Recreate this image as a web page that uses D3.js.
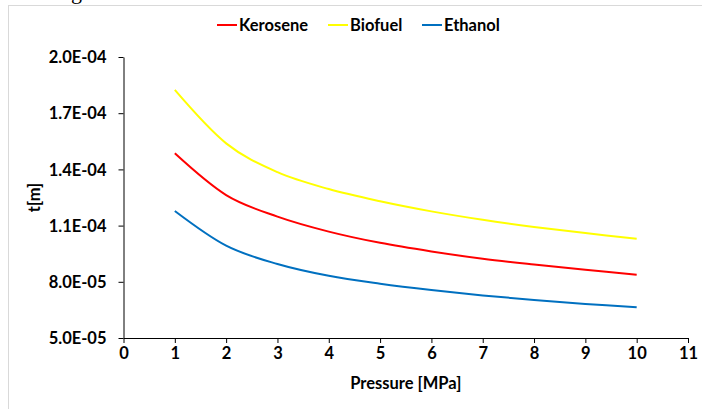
<!DOCTYPE html>
<html>
<head>
<meta charset="utf-8">
<script src="https://cdn.jsdelivr.net/npm/d3@7"></script>
<style>
  html, body { margin: 0; padding: 0; background: #fff; }
  svg { display: block; }
  text { font-family: Lato, "Open Sans", sans-serif; font-weight: bold; fill: #000; }
</style>
</head>
<body>
<svg id="chart" width="702" height="409"></svg>
<script>
// ---- data ----
const pressure = [1, 2, 3, 4, 5, 6, 7, 8, 9, 10];
const kerosene = [1.486e-4, 1.263e-4, 1.148e-4, 1.068e-4, 1.008e-4, 9.62e-5, 9.23e-5, 8.92e-5, 8.64e-5, 8.38e-5];
const biofuel  = [1.824e-4, 1.539e-4, 1.385e-4, 1.295e-4, 1.230e-4, 1.176e-4, 1.131e-4, 1.093e-4, 1.060e-4, 1.030e-4];
const ethanol  = [1.178e-4, 9.93e-5, 8.95e-5, 8.32e-5, 7.90e-5, 7.56e-5, 7.27e-5, 7.03e-5, 6.82e-5, 6.64e-5];
const seriesNames = ["Kerosene", "Biofuel", "Ethanol"];
const seriesColors = ["#FF0000", "#FFFF00", "#0070C0"];
const xTicks = [0, 1, 2, 3, 4, 5, 6, 7, 8, 9, 10, 11];
const yTicks = [5e-5, 8e-5, 1.1e-4, 1.4e-4, 1.7e-4, 2e-4];
const yTickLabels = ["5.0E-05", "8.0E-05", "1.1E-04", "1.4E-04", "1.7E-04", "2.0E-04"];
const xTitle = "Pressure [MPa]";
const yTitle = "t[m]";

const seriesValues = [kerosene, biofuel, ethanol];

const svg = d3.select("#chart");

// outer chart border (partially visible, light gray)
svg.append("rect")
  .attr("x", 8.5).attr("y", 5.5)
  .attr("width", 720).attr("height", 420)
  .attr("fill", "none").attr("stroke", "#d9d9d9").attr("stroke-width", 1);

// cut-off caption glyph at the very top
svg.append("text")
  .attr("x", 71).attr("y", -1)
  .style("font-family", "'Liberation Serif', serif")
  .style("font-weight", "normal")
  .style("font-size", "22px")
  .text("g");

const x = d3.scaleLinear().domain([0, 11]).range([123.5, 688]);
const y = d3.scaleLinear().domain([5e-5, 2e-4]).range([338, 57]);

// axes
const xAxis = d3.axisBottom(x).tickValues(xTicks).tickSize(5).tickSizeOuter(0).tickFormat(d3.format("d"));
const yAxis = d3.axisLeft(y).tickValues(yTicks).tickSize(5).tickSizeOuter(0)
  .tickFormat((d, i) => yTickLabels[i]);

const gx = svg.append("g").attr("transform", `translate(0,${y(5e-5)})`).call(xAxis);
const gy = svg.append("g").attr("transform", `translate(${x(0)},0)`).call(yAxis);

[gx, gy].forEach(g => {
  g.select(".domain").attr("stroke", "#000").attr("stroke-width", 1);
  g.selectAll(".tick line").attr("stroke", "#000").attr("stroke-width", 1);
  g.selectAll(".tick text").style("font-size", "16.5px").attr("fill", "#000");
});
gx.selectAll(".tick text").attr("dy", "0").attr("y", 21);
gy.selectAll(".tick text").attr("x", -17).attr("dy", "0.35em");

// axis titles
svg.append("text")
  .attr("x", (x(0) + x(11)) / 2).attr("y", 389)
  .attr("text-anchor", "middle")
  .style("font-size", "16.5px")
  .text(xTitle);

svg.append("text")
  .attr("transform", `translate(40,${(y(5e-5) + y(2e-4)) / 2}) rotate(-90)`)
  .attr("text-anchor", "middle")
  .style("font-size", "16.5px")
  .text(yTitle);

// lines
const line = d3.line()
  .x((d, i) => x(pressure[i]))
  .y(d => y(d))
  .curve(d3.curveCatmullRom.alpha(0));

seriesValues.forEach((vals, k) => {
  svg.append("path")
    .datum(vals)
    .attr("fill", "none")
    .attr("stroke", seriesColors[k])
    .attr("stroke-width", 2)
    .attr("d", line);
});

// legend
const legendX = [217, 328, 422];
seriesNames.forEach((name, k) => {
  const g = svg.append("g").attr("transform", `translate(${legendX[k]},25)`);
  g.append("line").attr("x1", 0).attr("x2", 20).attr("y1", 0).attr("y2", 0)
    .attr("stroke", seriesColors[k]).attr("stroke-width", 2);
  g.append("text").attr("x", 22).attr("y", 0).attr("dy", "0.35em")
    .style("font-size", "16.5px").text(name);
});
</script>
</body>
</html>
